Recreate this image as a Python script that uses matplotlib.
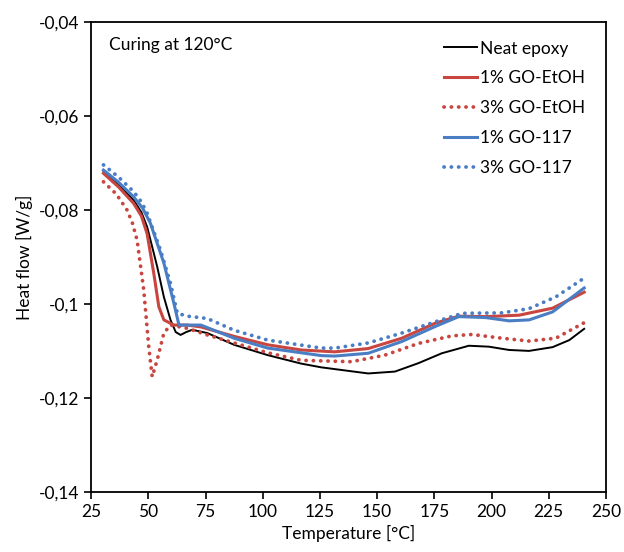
import matplotlib
matplotlib.use("Agg")
import matplotlib.pyplot as plt
from matplotlib.ticker import FuncFormatter

# Temperature [°C] and heat flow [W/g]
neat_t = [30.4, 37.0, 43.6, 47.0, 49.5, 53.9, 56.8, 59.7, 62.0, 64.1, 66.5, 69.2, 75.8, 87.5,
          102.2, 116.8, 125.6, 146.1, 157.8, 168.1, 178.3, 190.1, 198.9, 207.7, 216.4,
          226.7, 234.0, 240.5]
neat_y = [-0.0719, -0.0746, -0.0779, -0.0805, -0.0836, -0.0921, -0.0985, -0.1034, -0.1060,
          -0.1066, -0.1060, -0.1055, -0.1062, -0.1087, -0.1109, -0.1127, -0.1135, -0.1148,
          -0.1144, -0.1126, -0.1105, -0.1089, -0.1091, -0.1098, -0.1100, -0.1092, -0.1077,
          -0.1053]

etoh1_t = [30.4, 37.0, 43.6, 47.0, 49.5, 52.4, 54.6, 56.8, 61.2, 67.1, 73.0, 87.5, 102.2,
           116.8, 131.5, 146.1, 160.8, 175.4, 185.7, 197.4, 212.0, 226.7, 240.5]
etoh1_y = [-0.0722, -0.0751, -0.0786, -0.0813, -0.0851, -0.0935, -0.1006, -0.1034, -0.1045,
           -0.1045, -0.1049, -0.1069, -0.1087, -0.1098, -0.1102, -0.1095, -0.1073, -0.1041,
           -0.1026, -0.1027, -0.1024, -0.1009, -0.0975]

etoh3_t = [30.4, 36.0, 40.7, 43.0, 45.1, 48.0, 50.2, 51.7, 53.9, 56.8, 59.7, 67.1, 75.8,
           87.5, 102.2, 116.8, 138.8, 153.4, 168.1, 182.7, 191.5, 204.6, 216.4, 228.1, 240.5]
etoh3_y = [-0.0740, -0.0766, -0.0800, -0.0827, -0.0864, -0.0970, -0.1091, -0.1155, -0.1119,
           -0.1062, -0.1045, -0.1052, -0.1066, -0.1083, -0.1104, -0.1120, -0.1123, -0.1109,
           -0.1084, -0.1068, -0.1065, -0.1073, -0.1079, -0.1073, -0.1040]

go1_t = [30.4, 37.0, 43.6, 47.5, 50.9, 56.8, 61.2, 63.4, 68.5, 73.0, 87.5, 102.2, 125.6,
         131.5, 146.1, 160.8, 175.4, 185.7, 197.4, 207.7, 216.4, 226.7, 240.5]
go1_y = [-0.0715, -0.0741, -0.0772, -0.0796, -0.0828, -0.0913, -0.0999, -0.1045, -0.1045,
         -0.1045, -0.1073, -0.1094, -0.1110, -0.1111, -0.1105, -0.1080, -0.1048, -0.1027,
         -0.1029, -0.1036, -0.1034, -0.1017, -0.0966]

go3_t = [30.4, 37.0, 43.6, 47.0, 49.5, 55.3, 59.7, 62.7, 67.1, 75.8, 87.5, 102.2, 125.6,
         131.5, 146.1, 160.8, 175.4, 187.2, 204.6, 216.4, 228.1, 240.5]
go3_y = [-0.0704, -0.0730, -0.0761, -0.0783, -0.0807, -0.0885, -0.0956, -0.1020, -0.1026,
         -0.1031, -0.1056, -0.1077, -0.1094, -0.1094, -0.1083, -0.1062, -0.1038, -0.1020,
         -0.1019, -0.1010, -0.0985, -0.0945]

RED = "#C9453F"
BLUE = "#4A7EC4"
DOTS = (0, (0.05, 1.9))

plt.rcParams["font.family"] = ["Lato", "DejaVu Sans"]

fig = plt.figure(figsize=(6.24, 5.52), dpi=100)
ax = fig.add_axes([0.146, 0.109, 0.825, 0.851])

ax.plot(neat_t, neat_y, color="black", lw=1.4, label="Neat epoxy")
ax.plot(etoh1_t, etoh1_y, color=RED, lw=2.2, label="1% GO-EtOH")
ax.plot(etoh3_t, etoh3_y, color=RED, lw=2.7, ls=DOTS, dash_capstyle="round",
        label="3% GO-EtOH")
ax.plot(go1_t, go1_y, color=BLUE, lw=2.2, label="1% GO-117")
ax.plot(go3_t, go3_y, color=BLUE, lw=2.7, ls=DOTS, dash_capstyle="round",
        label="3% GO-117")

ax.set_xlim(25, 250)
ax.set_ylim(-0.14, -0.04)
ax.set_xticks(range(25, 251, 25))
ax.set_yticks([-0.14, -0.12, -0.10, -0.08, -0.06, -0.04])
ax.yaxis.set_major_formatter(FuncFormatter(lambda v, p: f"{v:g}".replace(".", ",")))
ax.tick_params(direction="out", length=5, width=1.2, labelsize=12.5, colors="black")
for s in ax.spines.values():
    s.set_linewidth(1.3)

ax.set_xlabel("Temperature [°C]", fontsize=12.5)
ax.set_ylabel("Heat flow [W/g]", fontsize=12.5)

ax.text(0.035, 0.968, "Curing at 120°C", transform=ax.transAxes, fontsize=12.5,
        va="top", ha="left")
ax.legend(loc="upper right", frameon=False, fontsize=12.5, handlelength=1.9,
          handletextpad=0.2, labelspacing=0.8, bbox_to_anchor=(0.99, 0.994))

fig.savefig("out.png", dpi=100)
